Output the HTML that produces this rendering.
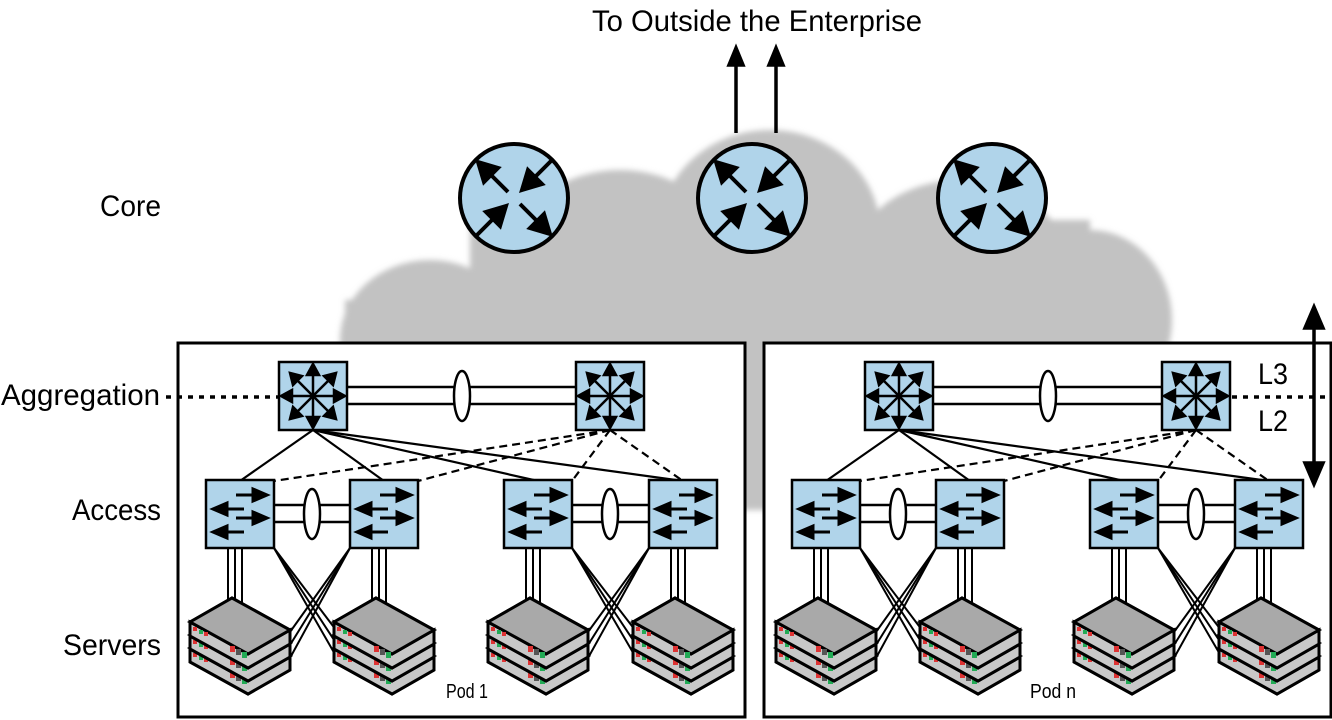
<!DOCTYPE html>
<html><head><meta charset="utf-8"><style>html,body{margin:0;padding:0;background:#fff}svg{display:block}</style></head>
<body>
<svg width="1332" height="720" viewBox="0 0 1332 720" xmlns="http://www.w3.org/2000/svg" font-family="Liberation Sans, sans-serif">
<defs>
<filter id="bl" x="-10%" y="-10%" width="120%" height="120%"><feGaussianBlur stdDeviation="3"/></filter>
<g id="router">
<circle cx="0" cy="0" r="54" fill="#b0d4ea" stroke="#000" stroke-width="4"/>
<g stroke="#000" stroke-width="4" fill="#000">
<line x1="-6" y1="-6" x2="-24" y2="-24"/><path d="M-36,-36 L-16,-30 L-30,-16z"/>
<line x1="6" y1="6" x2="24" y2="24"/><path d="M36,36 L16,30 L30,16z"/>
<line x1="38" y1="-38" x2="18" y2="-18"/><path d="M8,-8 L28,-14 L14,-28z"/>
<line x1="-38" y1="38" x2="-18" y2="18"/><path d="M-8,8 L-28,14 L-14,28z"/>
</g></g>
<g id="agg">
<rect x="0" y="0" width="68" height="68" fill="#b0d4ea" stroke="#000" stroke-width="2.5"/>
<g stroke="#000" stroke-width="2.5" fill="#000">
<line x1="34" y1="10" x2="34" y2="58"/><line x1="10" y1="34" x2="58" y2="34"/>
<line x1="17" y1="17" x2="51" y2="51"/><line x1="51" y1="17" x2="17" y2="51"/>
<path d="M34,2 L28,13 L40,13z"/><path d="M34,66 L28,55 L40,55z"/>
<path d="M2,34 L13,28 L13,40z"/><path d="M66,34 L55,28 L55,40z"/>
<path d="M11,11 L23,14 L14,23z"/><path d="M57,11 L45,14 L54,23z"/>
<path d="M11,57 L23,54 L14,45z"/><path d="M57,57 L45,54 L54,45z"/>
</g></g>
<g id="acc">
<rect x="0" y="0" width="68" height="68" fill="#b0d4ea" stroke="#000" stroke-width="2.5"/>
<g stroke="#000" stroke-width="3" fill="#000">
<line x1="30" y1="15" x2="48" y2="15"/><path d="M61,15 L47,9 L47,21z"/>
<line x1="38" y1="29" x2="20" y2="29"/><path d="M7,29 L21,23 L21,35z"/>
<line x1="30" y1="38" x2="48" y2="38"/><path d="M61,38 L47,32 L47,44z"/>
<line x1="38" y1="52" x2="20" y2="52"/><path d="M7,52 L21,46 L21,58z"/>
</g></g>
<g id="srv">
<path d="M0,24 L42,0 L100,32 L100,46 L58,70 L0,38z" fill="#a9a9a9" stroke="#000" stroke-width="3"/>
<path d="M0,24 L58,56 L100,32 L100,46 L58,70 L0,38z" fill="#c8c8c8" stroke="#000" stroke-width="3"/>
<path d="M0,24 L42,0 L100,32 L58,56z" fill="#a9a9a9" stroke="#000" stroke-width="3"/>
<rect x="3" y="29" width="4" height="4" fill="#d33"/><rect x="9" y="32" width="4" height="4" fill="#2a5"/><rect x="14" y="34" width="4" height="4" fill="#d33"/>
<rect x="40" y="48" width="5" height="6" fill="#d33"/><rect x="46" y="51" width="5" height="6" fill="#555"/><rect x="52" y="54" width="5" height="6" fill="#2a5"/>
</g>
<g id="stack">
<use href="#srv" transform="translate(0,26)"/>
<use href="#srv" transform="translate(0,13)"/>
<use href="#srv"/>
</g>
<g id="pod">
<rect x="178" y="343" width="567" height="374" fill="#fff" stroke="#000" stroke-width="3"/>
<line x1="347" y1="387" x2="576" y2="387" stroke="#000" stroke-width="2.5"/>
<line x1="347" y1="404" x2="576" y2="404" stroke="#000" stroke-width="2.5"/>
<ellipse cx="462" cy="396" rx="8" ry="25" fill="#fff" stroke="#000" stroke-width="2.5"/>
<g stroke="#000" stroke-width="2.2">
<line x1="313" y1="430" x2="240" y2="481"/><line x1="313" y1="430" x2="384" y2="481"/>
<line x1="313" y1="430" x2="538" y2="481"/><line x1="313" y1="430" x2="683" y2="481"/>
</g>
<g stroke="#000" stroke-width="2.2" stroke-dasharray="8,5">
<line x1="610" y1="430" x2="274" y2="481"/><line x1="610" y1="430" x2="418" y2="481"/>
<line x1="610" y1="430" x2="572" y2="481"/><line x1="610" y1="430" x2="683" y2="481"/>
</g>
<g stroke="#000" stroke-width="2.5">
<line x1="274" y1="505" x2="350" y2="505"/><line x1="274" y1="522" x2="350" y2="522"/>
<line x1="572" y1="505" x2="649" y2="505"/><line x1="572" y1="522" x2="649" y2="522"/>
</g>
<ellipse cx="312" cy="514" rx="8" ry="25" fill="#fff" stroke="#000" stroke-width="2.5"/>
<ellipse cx="610" cy="514" rx="8" ry="25" fill="#fff" stroke="#000" stroke-width="2.5"/>
<g stroke="#000" stroke-width="2">
<line x1="228" y1="548" x2="228" y2="608"/><line x1="235" y1="548" x2="235" y2="604"/><line x1="242" y1="548" x2="242" y2="608"/>
<line x1="372" y1="548" x2="372" y2="608"/><line x1="379" y1="548" x2="379" y2="604"/><line x1="386" y1="548" x2="386" y2="608"/>
<line x1="526" y1="548" x2="526" y2="608"/><line x1="533" y1="548" x2="533" y2="604"/><line x1="540" y1="548" x2="540" y2="608"/>
<line x1="671" y1="548" x2="671" y2="608"/><line x1="678" y1="548" x2="678" y2="604"/><line x1="685" y1="548" x2="685" y2="608"/>
<line x1="274" y1="548" x2="336" y2="630"/><line x1="274" y1="548" x2="336" y2="643"/><line x1="274" y1="548" x2="336" y2="656"/>
<line x1="350" y1="548" x2="290" y2="632"/><line x1="350" y1="548" x2="290" y2="645"/><line x1="350" y1="548" x2="290" y2="658"/>
<line x1="572" y1="548" x2="635" y2="630"/><line x1="572" y1="548" x2="635" y2="643"/><line x1="572" y1="548" x2="635" y2="656"/>
<line x1="649" y1="548" x2="588" y2="632"/><line x1="649" y1="548" x2="588" y2="645"/><line x1="649" y1="548" x2="588" y2="658"/>
</g>
<use href="#agg" x="279" y="362"/><use href="#agg" x="576" y="362"/>
<use href="#acc" x="206" y="480"/><use href="#acc" x="350" y="480"/>
<use href="#acc" x="504" y="480"/><use href="#acc" x="649" y="480"/>
<use href="#stack" transform="translate(190,598)"/>
<use href="#stack" transform="translate(334,598)"/>
<use href="#stack" transform="translate(488,598)"/>
<use href="#stack" transform="translate(633,598)"/>
</g>
</defs>

<g fill="#c2c2c2" filter="url(#bl)">
<ellipse cx="770" cy="230" rx="110" ry="100"/>
<ellipse cx="620" cy="260" rx="110" ry="90"/>
<ellipse cx="960" cy="270" rx="110" ry="90"/>
<ellipse cx="1090" cy="320" rx="82" ry="90"/>
<ellipse cx="430" cy="340" rx="90" ry="80"/>
<rect x="345" y="300" width="820" height="80"/>
<rect x="470" y="220" width="620" height="140"/>
<rect x="690" y="330" width="120" height="180"/>
</g>

<g stroke="#000" stroke-width="3.5" fill="#000">
<line x1="736" y1="133" x2="736" y2="62"/><path d="M736,48 L729,65 L743,65z"/>
<line x1="776" y1="133" x2="776" y2="62"/><path d="M776,48 L769,65 L783,65z"/>
</g>
<use href="#router" x="514" y="198"/>
<use href="#router" x="752" y="198"/>
<use href="#router" x="992" y="198"/>

<use href="#pod"/>
<use href="#pod" x="586"/>

<line x1="166" y1="397" x2="279" y2="397" stroke="#000" stroke-width="3.5" stroke-dasharray="5,6"/>
<line x1="1232" y1="397" x2="1332" y2="397" stroke="#000" stroke-width="3.5" stroke-dasharray="5,6"/>

<g stroke="#000" stroke-width="3.5" fill="#000">
<line x1="1314" y1="322" x2="1314" y2="468"/>
<path d="M1314,307 L1305,328 L1323,328z"/><path d="M1314,484 L1305,463 L1323,463z"/>
</g>

<g font-size="30" fill="#000">
<text x="592" y="31" textLength="330" lengthAdjust="spacingAndGlyphs">To Outside the Enterprise</text>
<text x="100" y="216" textLength="61" lengthAdjust="spacingAndGlyphs">Core</text>
<text x="1" y="405" textLength="159" lengthAdjust="spacingAndGlyphs">Aggregation</text>
<text x="72" y="520" textLength="89" lengthAdjust="spacingAndGlyphs">Access</text>
<text x="63" y="655" textLength="98" lengthAdjust="spacingAndGlyphs">Servers</text>
<text x="1258" y="384" textLength="30" lengthAdjust="spacingAndGlyphs">L3</text>
<text x="1258" y="431" textLength="30" lengthAdjust="spacingAndGlyphs">L2</text>
</g>
<g font-size="20" fill="#000">
<text x="446" y="698" textLength="42" lengthAdjust="spacingAndGlyphs">Pod 1</text>
<text x="1030" y="698" textLength="46" lengthAdjust="spacingAndGlyphs">Pod n</text>
</g>
</svg>
</body></html>
